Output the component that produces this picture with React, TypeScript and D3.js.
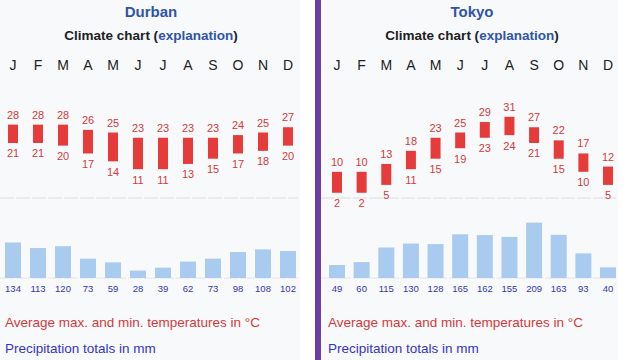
import React from "react";
import * as d3 from "d3";

const months = ["J", "F", "M", "A", "M", "J", "J", "A", "S", "O", "N", "D"];
const cities = ["Durban", "Tokyo"];
const durbanMax = [28, 28, 28, 26, 25, 23, 23, 23, 23, 24, 25, 27];
const durbanMin = [21, 21, 20, 17, 14, 11, 11, 13, 15, 17, 18, 20];
const durbanPrecip = [134, 113, 120, 73, 59, 28, 39, 62, 73, 98, 108, 102];
const tokyoMax = [10, 10, 13, 18, 23, 25, 29, 31, 27, 22, 17, 12];
const tokyoMin = [2, 2, 5, 11, 15, 19, 23, 24, 21, 15, 10, 5];
const tokyoPrecip = [49, 60, 115, 130, 128, 165, 162, 155, 209, 163, 93, 40];

const FONT = "'Liberation Sans', Arial, sans-serif";
const RED = "#e53b3b";
const RED_TXT = "#d43a3a";
const BLUE_BAR = "#a9cbf0";
const BLUE_TXT = "#3535b0";
const TITLE = "#2f55a8";

type PanelProps = {
  name: string;
  tmax: number[];
  tmin: number[];
  precip: number[];
  bgX: number;
  bgW: number;
  range: [number, number];
  cx: number;
  legendX: number;
};

function Panel(p: PanelProps) {
  const x = d3.scalePoint<number>().domain(d3.range(12)).range(p.range);
  const yT = d3.scaleLinear().domain([0, 30]).range([198, 198 - 30 * 2.62]);
  const yP = d3.scaleLinear().domain([0, 200]).range([278, 278 - 200 * 0.265]);
  const bw = 10;
  const pw = 16;
  return (
    <g>
      <rect x={p.bgX} y={0} width={p.bgW} height={360} fill="#f8f9fa" />
      <text x={p.cx} y={17} textAnchor="middle" fontFamily={FONT} fontWeight="bold" fontSize={15} fill={TITLE}>
        {p.name}
      </text>
      <text x={p.cx} y={40} textAnchor="middle" fontFamily={FONT} fontWeight="bold" fontSize={13.5} fill="#202122">
        Climate chart (<tspan fill={TITLE}>explanation</tspan>)
      </text>
      {months.map((m, i) => (
        <text key={"m" + i} x={x(i)} y={70} textAnchor="middle" fontFamily={FONT} fontSize={14} fill="#222">
          {m}
        </text>
      ))}
      <line x1={p.bgX} x2={p.bgX + p.bgW - 2} y1={yT(0)} y2={yT(0)} stroke="#dcdcdc" strokeDasharray="14 2" />
      <line x1={p.bgX} x2={p.bgX + p.bgW - 2} y1={yP(0)} y2={yP(0)} stroke="#e4e4e4" strokeDasharray="14 2" />
      {p.tmax.map((v, i) => (
        <g key={"t" + i}>
          <rect x={(x(i) as number) - bw / 2} y={yT(v)} width={bw} height={yT(p.tmin[i]) - yT(v)} fill={RED} />
          <text x={x(i)} y={yT(v) - 6} textAnchor="middle" fontFamily={FONT} fontSize={11} fill={RED_TXT}>
            {v}
          </text>
          <text x={x(i)} y={yT(p.tmin[i]) + 14.5} textAnchor="middle" fontFamily={FONT} fontSize={11} fill={RED_TXT}>
            {p.tmin[i]}
          </text>
        </g>
      ))}
      {p.precip.map((v, i) => (
        <g key={"p" + i}>
          <rect x={(x(i) as number) - pw / 2} y={yP(v)} width={pw} height={yP(0) - yP(v)} fill={BLUE_BAR} />
          <text x={x(i)} y={291.5} textAnchor="middle" fontFamily={FONT} fontSize={9.5} fill={BLUE_TXT}>
            {v}
          </text>
        </g>
      ))}
      <text x={p.legendX} y={326.5} fontFamily={FONT} fontSize={13.5} fill={RED_TXT}>
        Average max. and min. temperatures in °C
      </text>
      <text x={p.legendX} y={352.5} fontFamily={FONT} fontSize={13.5} fill="#3434c8">
        Precipitation totals in mm
      </text>
    </g>
  );
}

export default function App() {
  return (
    <div style={{ position: "fixed", left: 0, top: 0 }}>
      <svg width={640} height={360} style={{ display: "block", background: "#fff" }}>
        <Panel name={cities[0]} tmax={durbanMax} tmin={durbanMin} precip={durbanPrecip}
          bgX={0} bgW={300} range={[13, 288]} cx={151} legendX={5} />
        <rect x={315} y={0} width={6} height={360} fill="#6a40a4" />
        <Panel name={cities[1]} tmax={tokyoMax} tmin={tokyoMin} precip={tokyoPrecip}
          bgX={321} bgW={297} range={[337, 608]} cx={472} legendX={328} />
      </svg>
    </div>
  );
}
